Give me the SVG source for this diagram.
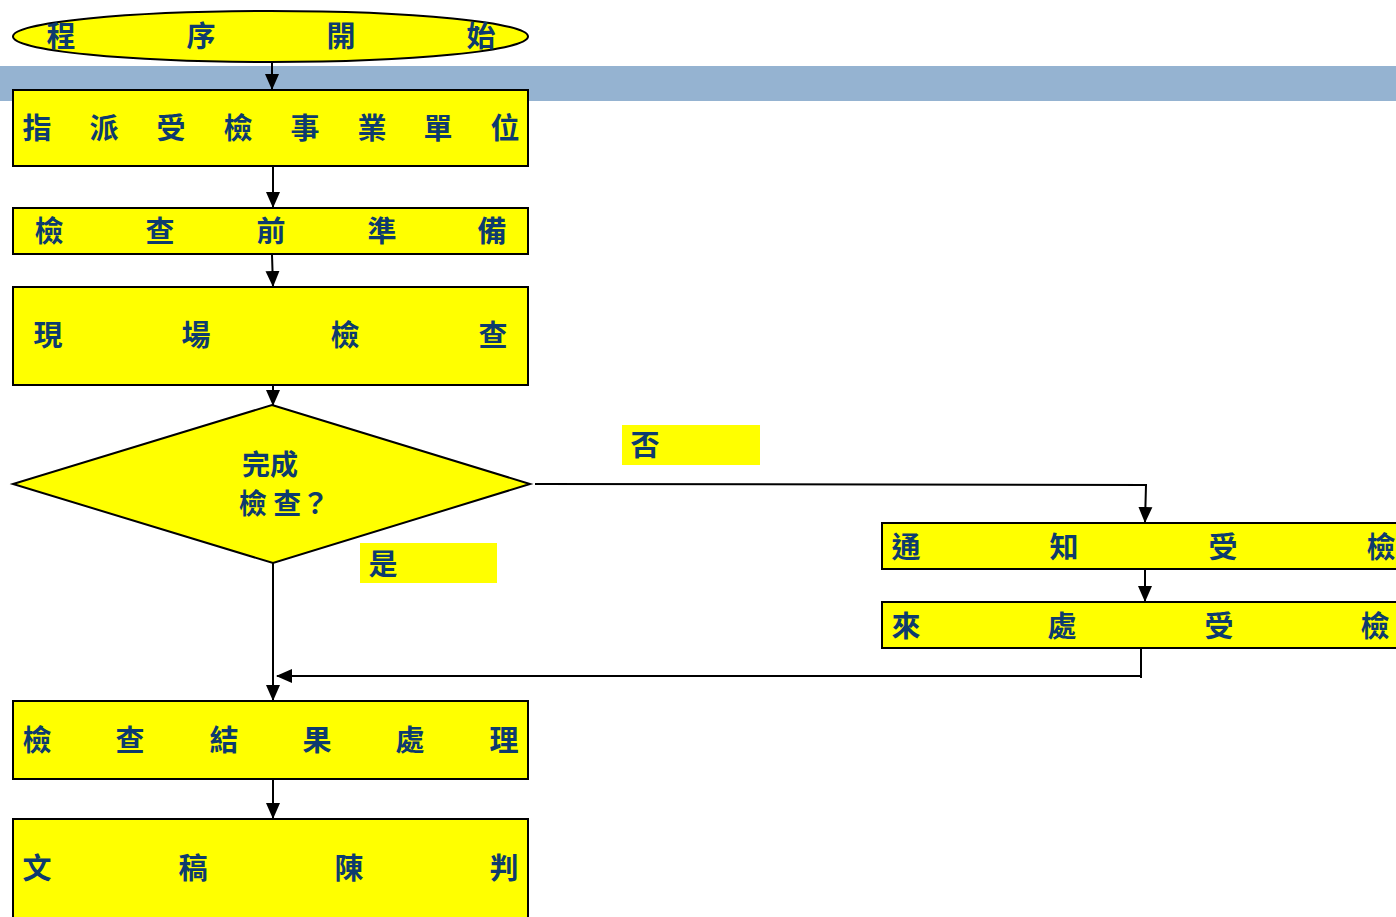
<svg xmlns="http://www.w3.org/2000/svg" width="1396" height="917" viewBox="0 0 1396 917">
<style>
.n{fill:#ffff00;stroke:#000;stroke-width:2}
.t{font-family:"Noto Sans CJK TC","Noto Sans CJK SC",sans-serif;font-size:29px;font-weight:bold;fill:#0d3b6e;text-anchor:middle;dominant-baseline:central}
.d{font-size:28px}
.c{fill:none;stroke:#000;stroke-width:2}
.lab{fill:#ffff00}
</style>
<defs>
<marker id="a" markerWidth="16" markerHeight="16" refX="15" refY="8" orient="auto" markerUnits="userSpaceOnUse" viewBox="0 0 16 16">
<path d="M0,1 L16,8 L0,15 z" fill="#000"/>
</marker>
</defs>
<rect x="0" y="66" width="1396" height="35" fill="#95b3d1"/>
<g id="connectors">
<line class="c" x1="272" y1="62" x2="272" y2="89" marker-end="url(#a)"/>
<line class="c" x1="273" y1="167" x2="273" y2="207" marker-end="url(#a)"/>
<line class="c" x1="272" y1="255" x2="273" y2="286" marker-end="url(#a)"/>
<line class="c" x1="273" y1="386" x2="273" y2="405" marker-end="url(#a)"/>
<polyline class="c" points="535,484 1146,485 1145,522" marker-end="url(#a)"/>
<line class="c" x1="1145" y1="570" x2="1145" y2="601" marker-end="url(#a)"/>
<line class="c" x1="273" y1="563" x2="273" y2="700" marker-end="url(#a)"/>
<line class="c" x1="1141" y1="649" x2="1141" y2="678"/>
<line class="c" x1="1140" y1="676" x2="277" y2="676" marker-end="url(#a)"/>
<line class="c" x1="273" y1="780" x2="273" y2="818" marker-end="url(#a)"/>
</g>
<g id="start">
<ellipse class="n" cx="270.5" cy="36.5" rx="257.5" ry="25.5"/>
<text class="t" x="61" y="34">程</text><text class="t" x="201" y="34">序</text><text class="t" x="341" y="34">開</text><text class="t" x="481" y="34">始</text>
</g>
<g id="assign">
<rect class="n" x="13" y="90" width="515" height="76"/>
<text class="t" x="37" y="126">指</text><text class="t" x="104" y="126">派</text><text class="t" x="171" y="126">受</text><text class="t" x="238" y="126">檢</text><text class="t" x="305" y="126">事</text><text class="t" x="372" y="126">業</text><text class="t" x="438" y="126">單</text><text class="t" x="505" y="126">位</text>
</g>
<g id="prep">
<rect class="n" x="13" y="208" width="515" height="46"/>
<text class="t" x="49" y="229">檢</text><text class="t" x="160" y="229">查</text><text class="t" x="271" y="229">前</text><text class="t" x="382" y="229">準</text><text class="t" x="492" y="229">備</text>
</g>
<g id="onsite">
<rect class="n" x="13" y="287" width="515" height="98"/>
<text class="t" x="48" y="333">現</text><text class="t" x="196" y="333">場</text><text class="t" x="345" y="333">檢</text><text class="t" x="493" y="333">查</text>
</g>
<g id="decision">
<polygon class="n" points="272,405 530,484 273,563 13,484"/>
<text class="t d" x="270" y="463">完成</text>
<text class="t d" x="284" y="502">檢 查？</text>
</g>
<g id="label-no">
<rect class="lab" x="622" y="425" width="138" height="40"/>
<text class="t" x="645" y="443">否</text>
</g>
<g id="label-yes">
<rect class="lab" x="360" y="543" width="137" height="40"/>
<text class="t" x="383" y="562">是</text>
</g>
<g id="notify">
<rect class="n" x="882" y="523" width="530" height="46"/>
<text class="t" x="906" y="545">通</text><text class="t" x="1064" y="545">知</text><text class="t" x="1223" y="545">受</text><text class="t" x="1381" y="545">檢</text>
</g>
<g id="visit">
<rect class="n" x="882" y="602" width="530" height="46"/>
<text class="t" x="906" y="624">來</text><text class="t" x="1062" y="624">處</text><text class="t" x="1219" y="624">受</text><text class="t" x="1375" y="624">檢</text>
</g>
<g id="result">
<rect class="n" x="13" y="701" width="515" height="78"/>
<text class="t" x="37" y="738">檢</text><text class="t" x="130" y="738">查</text><text class="t" x="224" y="738">結</text><text class="t" x="317" y="738">果</text><text class="t" x="410" y="738">處</text><text class="t" x="504" y="738">理</text>
</g>
<g id="draft">
<rect class="n" x="13" y="819" width="515" height="110"/>
<text class="t" x="37" y="866">文</text><text class="t" x="193" y="866">稿</text><text class="t" x="349" y="866">陳</text><text class="t" x="504" y="866">判</text>
</g>
</svg>
